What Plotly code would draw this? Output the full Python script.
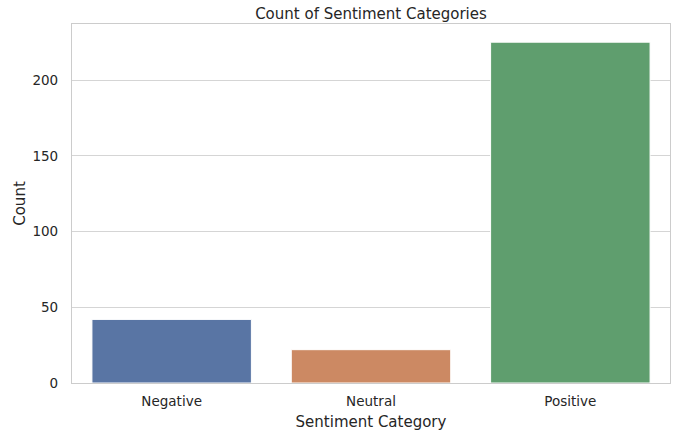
import plotly.graph_objects as go

categories = ["Negative", "Neutral", "Positive"]
counts = [42, 22, 225]
colors = ["#5975a4", "#cc8963", "#5f9e6e"]

fig = go.Figure()
fig.add_trace(go.Bar(
    x=categories, y=counts,
    marker=dict(color=colors, line=dict(color="white", width=1)),
    width=0.8,
))

font_family = "DejaVu Sans"
fig.update_layout(
    width=681, height=437,
    margin=dict(l=72, r=11, t=24, b=54, autoexpand=False),
    paper_bgcolor="white", plot_bgcolor="white",
    font=dict(family=font_family, color="#262626", size=13.5),
    title=dict(text="Count of Sentiment Categories", x=0.5, xanchor="center",
               xref="paper", y=1 - 13.5 / 437, yref="container", yanchor="middle",
               font=dict(size=15, color="#262626")),
    showlegend=False,
    bargap=0.2,
)
fig.update_xaxes(
    range=[-0.5, 2.5], showgrid=False, showline=True, linecolor="#cccccc", linewidth=1.2,
    mirror=True, ticks="", tickfont=dict(size=13.5), automargin=False,
    ticklabelstandoff=6,
    title=dict(text="Sentiment Category", font=dict(size=15), standoff=8),
)
fig.update_yaxes(
    range=[0, 237], showgrid=True, gridcolor="#d5d5d5", gridwidth=1.2,
    showline=True, linecolor="#cccccc", linewidth=1.2, mirror=True,
    tickvals=[0, 50, 100, 150, 200], ticks="", tickfont=dict(size=13.5),
    zeroline=False, ticklabelstandoff=10, automargin=False,
    title=dict(text="Count", font=dict(size=15), standoff=3),
)
fig.write_html("out.html", config={"displayModeBar": False},
               post_script="document.body.style.margin='0px';")
